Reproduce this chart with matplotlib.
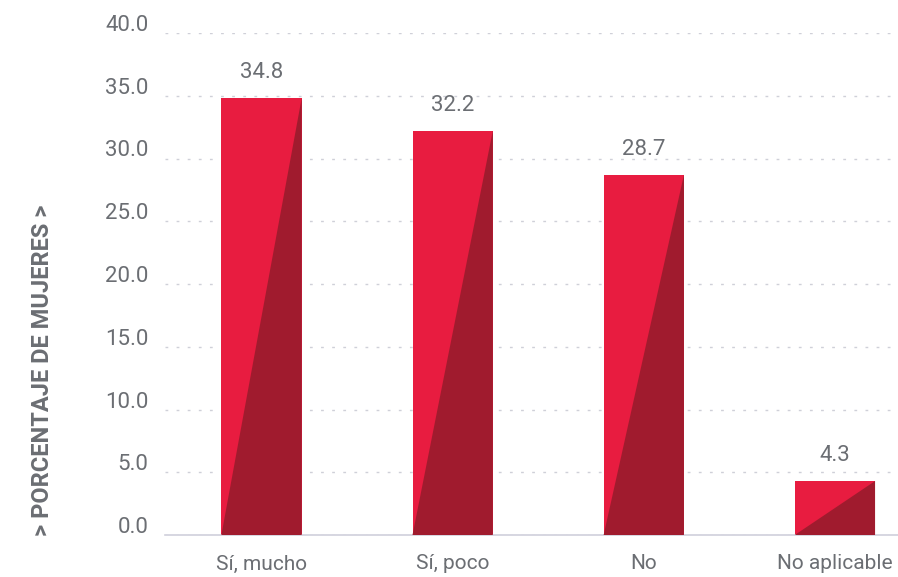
import matplotlib.pyplot as plt
from matplotlib.patches import Polygon
from matplotlib.transforms import ScaledTranslation

categorias = ['Sí, mucho', 'Sí, poco', 'No', 'No aplicable']
porcentajes = [34.8, 32.2, 28.7, 4.3]
ticks_y = [0, 5, 10, 15, 20, 25, 30, 35, 40]

rojo = '#E81C40'
rojo_oscuro = '#A01B2E'
gris = '#6B6E73'

plt.rcParams['font.family'] = ['Roboto', 'DejaVu Sans']

fig = plt.figure(figsize=(8.98, 5.77), dpi=100)
ax = fig.add_axes([165 / 898, (577 - 535) / 577, 733 / 898, (535 - 33) / 577])

ancho = 0.42
x = list(range(len(categorias)))
barras = ax.bar(x, porcentajes, width=ancho, color=rojo, zorder=2)

# triangulo oscuro sobre cada barra
for b, v in zip(barras, porcentajes):
    x0 = b.get_x()
    x1 = x0 + b.get_width()
    ax.add_patch(Polygon([(x0, 0), (x1, v), (x1, 0)], closed=True,
                         facecolor=rojo_oscuro, edgecolor='none', zorder=3))
    ax.text(b.get_x() + b.get_width() / 2, v + 1.6, f'{v:.1f}',
            ha='center', va='baseline', fontsize=16, color=gris)

ax.set_xlim(-0.505, 3.33)
ax.set_ylim(0, 40)
ax.set_yticks(ticks_y)
ax.set_yticklabels([f'{t:.1f}' for t in ticks_y])
ax.set_xticks(x)
ax.set_xticklabels(categorias)
ax.tick_params(axis='x', length=0, labelsize=15, colors=gris, pad=14)
ax.tick_params(axis='y', length=0, labelsize=16, colors=gris, pad=12)

# etiquetas del eje y apoyadas sobre la linea de la grilla
for lbl in ax.get_yticklabels():
    lbl.set_va('baseline')
    lbl.set_transform(lbl.get_transform() + ScaledTranslation(0, 2 / 100, fig.dpi_scale_trans))

ax.grid(axis='y', linestyle=(0, (2, 6)), color='#CFD0D8', linewidth=1, zorder=0)
for lado in ['top', 'right', 'left']:
    ax.spines[lado].set_visible(False)
ax.spines['bottom'].set_color('#D0D0DC')
ax.spines['bottom'].set_linewidth(1.2)

fig.text(43 / 898, 1 - 370 / 577, '> PORCENTAJE DE MUJERES >', rotation=90,
         ha='center', va='center', fontsize=17, fontweight='bold', color=gris)

fig.savefig('out.png', dpi=100)
